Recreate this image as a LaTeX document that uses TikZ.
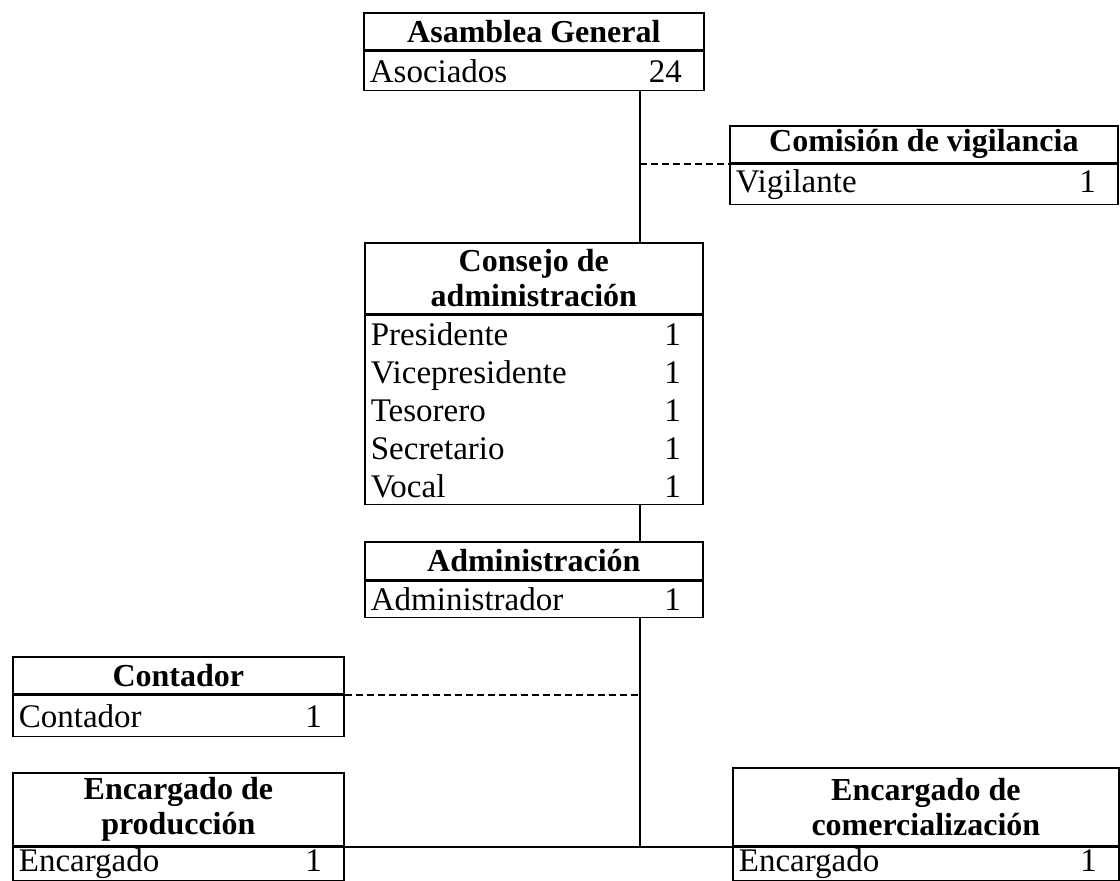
\documentclass[tikz,border=0pt]{standalone}
\usepackage{fontspec}
\setmainfont{Liberation Serif}
\newcommand\rw[2]{\noindent\hbox to\linewidth{#1\hfill#2\hspace{8pt}}}
\begin{document}
\begin{tikzpicture}[x=0.5pt,y=-0.5pt,
 box/.style={draw, line width=0.85pt, rectangle, anchor=north west, inner sep=0pt},
 hdr/.style={box, align=center, font=\bfseries\fontsize{16}{17.5}\selectfont},
 bdy/.style={box, align=left, inner xsep=3pt, inner ysep=0pt, font=\fontsize{16.5}{19}\selectfont},
 link/.style={line width=0.85pt},
 dlink/.style={line width=0.8pt, dash pattern=on 3.5pt off 2pt}]
\useasboundingbox (0,0) rectangle (1120,880);
\coordinate (spine) at (640,0);
% Asamblea General
\node[hdr, minimum width=170pt, minimum height=18.5pt] (ag) at (363,12) {Asamblea General};
\node[bdy, text width=164pt, minimum height=19.5pt] (agb) at (ag.south west) {\rw{Asociados}{24}};
% Comision de vigilancia
\node[hdr, minimum width=194pt, minimum height=18.5pt] (cv) at (729,125) {Comisión de vigilancia};
\node[bdy, text width=188pt, minimum height=20pt] (cvb) at (cv.south west) {\rw{Vigilante}{1}};
% Consejo de administracion
\node[hdr, minimum width=169pt, minimum height=35.5pt] (ca) at (364,242) {Consejo de\\administración};
\node[bdy, text width=163pt, minimum height=94.5pt] (cab) at (ca.south west)
  {\rw{Presidente}{1}\\\rw{Vicepresidente}{1}\\\rw{Tesorero}{1}\\\rw{Secretario}{1}\\\rw{Vocal}{1}};
% Administracion
\node[hdr, minimum width=169pt, minimum height=19pt] (ad) at (364,541) {Administración};
\node[bdy, text width=163pt, minimum height=18pt] (adb) at (ad.south west) {\rw{Administrador}{1}};
% Contador
\node[hdr, minimum width=165.5pt, minimum height=18.5pt] (ct) at (12,656) {Contador};
\node[bdy, text width=159.5pt, minimum height=20.5pt] (ctb) at (ct.south west) {\rw{Contador}{1}};
% Encargado de produccion
\node[hdr, minimum width=165.5pt, minimum height=36.5pt] (ep) at (12,772) {Encargado de\\producción};
\node[bdy, text width=159.5pt, minimum height=16.5pt] (epb) at (ep.south west) {\rw{Encargado}{1}};
% Encargado de comercializacion
\node[hdr, minimum width=193pt, minimum height=39pt] (ec) at (732,767) {Encargado de\\comercialización};
\node[bdy, text width=187pt, minimum height=16.5pt] (ecb) at (ec.south west) {\rw{Encargado}{1}};
% connectors
\draw[link] (agb.south -| spine) -- (ca.north -| spine);
\draw[dlink] (spine |- cvb.north west) -- (cvb.north west);
\draw[link] (cab.south -| spine) -- (ad.north -| spine);
\draw[link] (adb.south -| spine) -- (epb.north -| spine);
\draw[link] (epb.north east) -- (ecb.north west);
\draw[dlink] (ctb.north east) -- (ctb.north east -| spine);
\end{tikzpicture}
\end{document}
